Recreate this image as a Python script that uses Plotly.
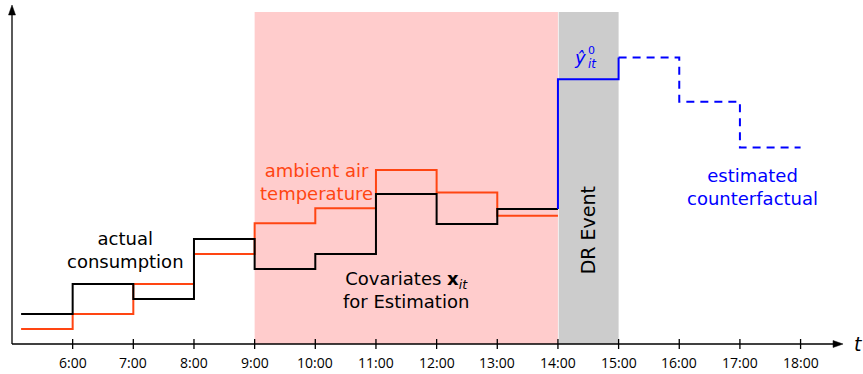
import plotly.graph_objects as go

# Hour boundaries and step values (arbitrary load / temperature units)
hour_edges = [5.15, 6, 7, 8, 9, 10, 11, 12, 13, 14]
consumption = [2.0, 4.0, 3.0, 7.0, 5.0, 6.0, 10.0, 8.0, 9.0]
temperature = [1.0, 2.0, 4.0, 6.0, 8.05, 9.05, 11.6, 10.1, 8.55]

# Counterfactual estimate for 14:00-18:00
cf_edges = [14, 15, 16, 17, 18]
counterfactual = [17.65, 19.1, 16.15, 13.1]

tick_hours = [6, 7, 8, 9, 10, 11, 12, 13, 14, 15, 16, 17, 18]
tick_labels = [f"{h}:00" for h in tick_hours]

estimation_window = (9, 14)
event_window = (14, 15)

BLACK = "#000000"
ORANGE = "#ff4512"
BLUE = "#0000ff"
FONT = "DejaVu Sans"
TICK_FONT = "Open Sans"

X_MIN, X_MAX = 4.8022, 19.029
Y_MIN, Y_MAX = -2.0, 22.933
X_END = 18.70
Y_TOP = 22.6
SHADE_TOP = 22.13


def steps(edges, values):
    """Vertices of a piecewise-constant line."""
    xs, ys = [], []
    for i, v in enumerate(values):
        xs += [edges[i], edges[i + 1]]
        ys += [v, v]
    return xs, ys


fig = go.Figure()

bx, by = steps(hour_edges, consumption)
ox, oy = steps(hour_edges, temperature)
fig.add_trace(go.Scatter(x=ox, y=oy, mode="lines",
                         line=dict(color=ORANGE, width=2), hoverinfo="skip"))
fig.add_trace(go.Scatter(x=bx, y=by, mode="lines",
                         line=dict(color=BLACK, width=2), hoverinfo="skip"))

# solid estimate during the event, rising from the last observed value
sx = [cf_edges[0], cf_edges[0], cf_edges[1], cf_edges[1]]
sy = [consumption[-1], counterfactual[0], counterfactual[0], counterfactual[1]]
fig.add_trace(go.Scatter(x=sx, y=sy, mode="lines",
                         line=dict(color=BLUE, width=2), hoverinfo="skip"))
# dashed estimate after the event
dx, dy = steps(cf_edges[1:], counterfactual[1:])
fig.add_trace(go.Scatter(x=dx, y=dy, mode="lines",
                         line=dict(color=BLUE, width=2, dash="8px,6px"),
                         hoverinfo="skip"))

shapes = [
    dict(type="rect", xref="x", yref="y", layer="below",
         x0=estimation_window[0], x1=estimation_window[1], y0=0, y1=SHADE_TOP,
         fillcolor="#ffcccc", line=dict(width=0)),
    dict(type="rect", xref="x", yref="y", layer="below",
         x0=event_window[0] + 0.012, x1=event_window[1], y0=0, y1=SHADE_TOP,
         fillcolor="#cccccc", line=dict(width=0)),
    # axes
    dict(type="line", xref="x", yref="y", x0=5, x1=X_END - 0.1, y0=0, y1=0,
         line=dict(color=BLACK, width=1.3)),
    dict(type="line", xref="x", yref="y", x0=5, x1=5, y0=0, y1=Y_TOP - 0.5,
         line=dict(color=BLACK, width=1.3)),
    # arrowheads
    dict(type="path", xref="x", yref="y", xsizemode="pixel", ysizemode="pixel",
         xanchor=X_END, yanchor=0, path="M 0,0 L -10,-3.5 L -10,3.5 Z",
         fillcolor=BLACK, line=dict(color=BLACK, width=0.5)),
    dict(type="path", xref="x", yref="y", xsizemode="pixel", ysizemode="pixel",
         xanchor=5, yanchor=Y_TOP, path="M 0,0 L -3.5,-10 L 3.5,-10 Z",
         fillcolor=BLACK, line=dict(color=BLACK, width=0.5)),
]
for h in tick_hours:
    shapes.append(dict(type="line", xref="x", yref="y", ysizemode="pixel",
                       yanchor=0, x0=h, x1=h, y0=-5, y1=5,
                       line=dict(color=BLACK, width=1.3)))

annotations = []
for h, lab in zip(tick_hours, tick_labels):
    annotations.append(dict(x=h, y=Y_MIN + 0.04, text=lab, showarrow=False,
                            xanchor="center", yanchor="bottom", borderpad=0,
                            font=dict(family=TICK_FONT, size=14, color=BLACK)))


def label(x, y, text, color, size=18, angle=0, xanchor="center"):
    annotations.append(dict(x=x, y=y, text=text, showarrow=False, borderpad=0,
                            xanchor=xanchor, yanchor="middle", textangle=angle,
                            font=dict(family=FONT, size=size, color=color)))


label(6.879, 6.27, "actual<br>consumption", BLACK)
label(10.02, 10.8, "ambient air<br>temperature", ORANGE)
label(11.49, 3.6, "Covariates <b>x</b><sub><i>it</i></sub><br>for Estimation", BLACK)
label(14.5, 7.6, "DR Event", BLACK, size=19, angle=-90)
label(17.215, 10.47, "estimated<br>counterfactual", BLUE)
label(14.364, 19.13, "<i>ŷ</i>", BLUE, size=18)
label(14.478, 19.6, "0", BLUE, size=11, xanchor="left")
label(14.478, 18.7, "<i>it</i>", BLUE, size=12, xanchor="left")
label(18.95, 0.0, "<i>t</i>", BLACK, size=19)

fig.update_layout(
    width=863, height=374,
    margin=dict(l=0, r=0, t=0, b=0),
    paper_bgcolor="white", plot_bgcolor="white",
    showlegend=False,
    xaxis=dict(range=[X_MIN, X_MAX], visible=False, fixedrange=True),
    yaxis=dict(range=[Y_MIN, Y_MAX], visible=False, fixedrange=True),
    shapes=shapes,
    annotations=annotations,
)

fig.write_html("out.html")
